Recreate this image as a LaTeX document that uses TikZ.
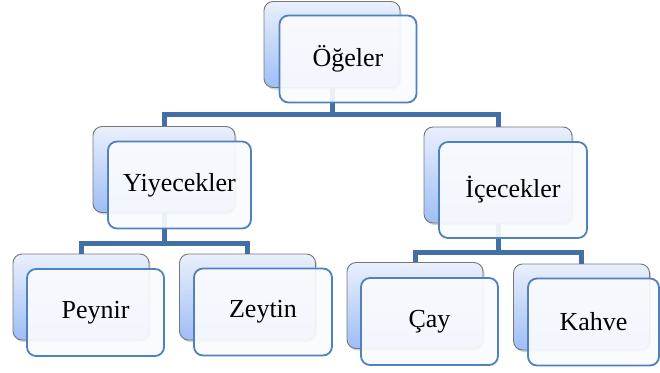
\documentclass[tikz,border=0pt]{standalone}
\usepackage{fontspec}
\setmainfont{Liberation Serif}
\usetikzlibrary{positioning,shadows}

\definecolor{lineblue}{RGB}{66,112,166}
\definecolor{frameblue}{RGB}{79,129,189}
\definecolor{shadetop}{RGB}{234,240,252}
\definecolor{shadebot}{RGB}{158,190,246}
\definecolor{boxgray}{RGB}{118,118,118}
\definecolor{frontfill}{RGB}{250,251,254}

\tikzset{backbox/.style={draw=boxgray,line width=0.9pt,rounded corners=9pt,
    top color=shadetop,bottom color=shadebot,minimum width=136pt,minimum height=86pt,
    inner sep=0pt,drop shadow={opacity=0.35,shadow xshift=1.5pt,shadow yshift=-2pt}}}
\tikzset{frontbox/.style={draw=frameblue,line width=1.8pt,rounded corners=9pt,
    fill=frontfill,fill opacity=0.92,text opacity=1,minimum width=137pt,minimum height=87pt,
    inner sep=0pt,font=\fontsize{26}{30}\selectfont}}
\tikzset{conn/.style={draw=lineblue,line width=5pt}}

\begin{document}
\begin{tikzpicture}[x=1pt,y=-1pt,on grid]
  \useasboundingbox (0,0) rectangle (660,372);

  % back boxes
  \node[backbox]                          (ogeB) at (332,44.5)  {};
  \node[backbox,minimum width=142pt]      (yiyB) at (164,169.5) {};
  \node[backbox,minimum width=148pt,minimum height=96pt] (iceB) at (498,175) {};
  \node[backbox]                          (peyB) at (81,297)    {};
  \node[backbox]                          (zeyB) at (247.5,297) {};
  \node[backbox]                          (cayB) at (415,305.5) {};
  \node[backbox]                          (kahB) at (581.5,307) {};

  % connectors
  \draw[conn] (ogeB.south) -- ++(0,27) -| (yiyB.north);
  \draw[conn] (ogeB.south) -- ++(0,27) -| (iceB.north);
  \draw[conn] (yiyB.south) -- ++(0,31) -| (peyB.north);
  \draw[conn] (yiyB.south) -- ++(0,31) -| (zeyB.north);
  \draw[conn] (iceB.south) -- ++(0,29) -| (cayB.north);
  \draw[conn] (iceB.south) -- ++(0,29) -| (kahB.north);

  % front boxes
  \node[frontbox]                     (oge) [below right=14.5pt and 16pt of ogeB] {Öğeler};
  \node[frontbox,minimum width=143pt] (yiy) [below right=15.5pt and 15.5pt of yiyB] {Yiyecekler};
  \node[frontbox,minimum width=148pt,minimum height=96pt] (ice) [below right=15pt and 15pt of iceB] {İçecekler};
  \node[frontbox]                     (pey) [below right=15.5pt and 14.5pt of peyB] {Peynir};
  \node[frontbox,minimum width=138pt] (zey) [below right=15pt and 15.5pt of zeyB] {Zeytin};
  \node[frontbox]                     (cay) [below right=16pt and 14.5pt of cayB] {Çay};
  \node[frontbox,minimum width=131pt] (kah) [below right=15pt and 12pt of kahB] {Kahve};
\end{tikzpicture}
\end{document}
